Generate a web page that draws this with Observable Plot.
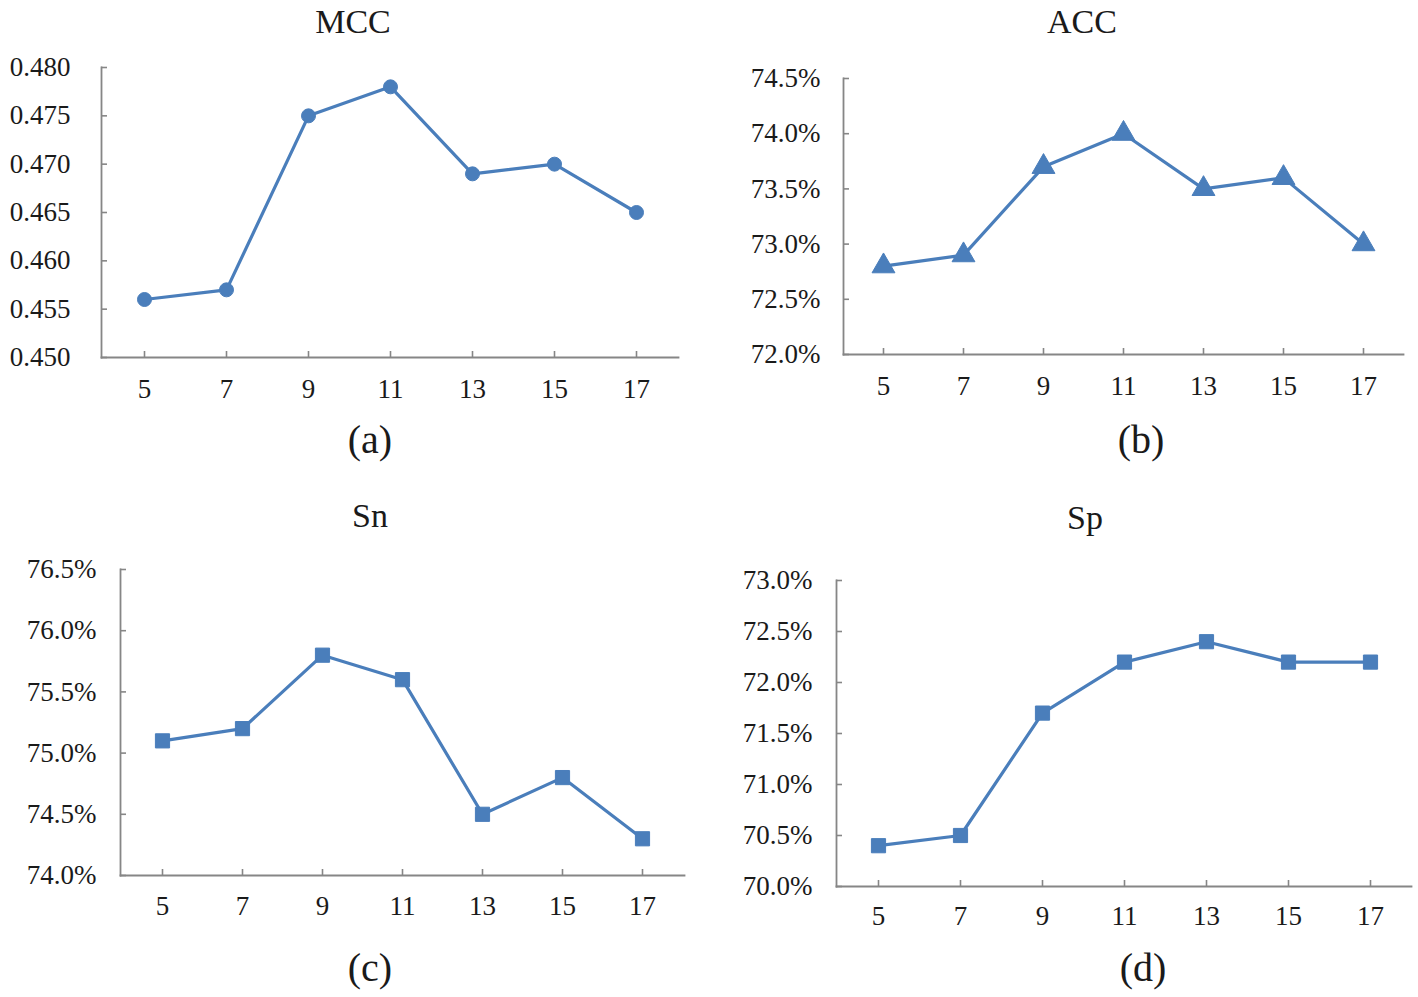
<!DOCTYPE html>
<html>
<head>
<meta charset="utf-8">
<script src="https://cdn.jsdelivr.net/npm/d3@7"></script>
<script src="https://cdn.jsdelivr.net/npm/@observablehq/plot@0.6"></script>
<style>
  html, body { margin: 0; padding: 0; background: #fff; }
  #wrap { position: relative; width: 1418px; height: 997px; overflow: hidden; background: #fff;
          font-family: "Liberation Serif", "Times New Roman", serif; color: #1a1a1a; }
  .panel { position: absolute; }
  .lbl { position: absolute; transform: translate(-50%, -50%); white-space: nowrap; line-height: 1.15; }
  .title { font-size: 34px; }
  .cap { font-size: 40px; }
</style>
</head>
<body>
<div id="wrap"></div>
<script>
// ---- data ----
const windowSizes = [5, 7, 9, 11, 13, 15, 17];
const mcc = [0.456, 0.457, 0.475, 0.478, 0.469, 0.470, 0.465];
const acc = [72.8, 72.9, 73.7, 74.0, 73.5, 73.6, 73.0];
const sn  = [75.1, 75.2, 75.8, 75.6, 74.5, 74.8, 74.3];
const sp  = [70.4, 70.5, 71.7, 72.2, 72.4, 72.2, 72.2];
const mccTicks = [0.450, 0.455, 0.460, 0.465, 0.470, 0.475, 0.480];
const accTicks = [72.0, 72.5, 73.0, 73.5, 74.0, 74.5];
const snTicks  = [74.0, 74.5, 75.0, 75.5, 76.0, 76.5];
const spTicks  = [70.0, 70.5, 71.0, 71.5, 72.0, 72.5, 73.0];
const titles   = ["MCC", "ACC", "Sn", "Sp"];
const captions = ["(a)", "(b)", "(c)", "(d)"];

const BLUE = "#4a7ebb";
const AXIS = "#868686";
const FONT = "'Liberation Serif', 'Times New Roman', serif";

const wrap = document.getElementById("wrap");

function panel({values, ticks, fmt, symbol, r, left, top, width, height,
                mL, mR, mT, mB, yPad, xPad}) {
  const data = windowSizes.map((k, i) => ({k: String(k), v: values[i]}));
  const chart = Plot.plot({
    width, height,
    marginLeft: mL, marginRight: mR, marginTop: mT, marginBottom: mB,
    style: {fontFamily: FONT, fontSize: "27px", color: "#1a1a1a", background: "transparent", overflow: "visible"},
    x: {type: "point", domain: windowSizes.map(String), padding: 0.5, label: null},
    y: {domain: [ticks[0], ticks[ticks.length - 1]], label: null},
    marks: [
      Plot.axisY({ticks, tickFormat: fmt, tickSize: -6, tickPadding: yPad, stroke: AXIS, strokeWidth: 1.6, fill: "#1a1a1a", fontSize: 27}),
      Plot.axisX({tickSize: -6, tickPadding: xPad, stroke: AXIS, strokeWidth: 1.6, fill: "#1a1a1a", fontSize: 27}),
      Plot.frame({anchor: "left", stroke: AXIS, strokeWidth: 1.8}),
      Plot.frame({anchor: "bottom", stroke: AXIS, strokeWidth: 1.8}),
      Plot.line(data, {x: "k", y: "v", stroke: BLUE, strokeWidth: 3.2}),
      Plot.dot(data, {x: "k", y: "v", symbol, r, fill: BLUE, stroke: BLUE, strokeWidth: 1})
    ]
  });
  chart.classList.add("panel");
  chart.style.left = left + "px";
  chart.style.top = top + "px";
  wrap.appendChild(chart);
}

const pct = d => d.toFixed(1) + "%";

panel({values: mcc, ticks: mccTicks, fmt: d => d.toFixed(3), symbol: "circle", r: 7,
       left: 0, top: 0, width: 709, height: 420, mL: 101, mR: 31, mT: 67, mB: 63, yPad: 37, xPad: 27});
panel({values: acc, ticks: accTicks, fmt: pct, symbol: "triangle", r: 8.5,
       left: 709, top: 0, width: 709, height: 420, mL: 134, mR: 15, mT: 78, mB: 66, yPad: 29, xPad: 27});
panel({values: sn, ticks: snTicks, fmt: pct, symbol: "square", r: 8,
       left: 0, top: 490, width: 709, height: 460, mL: 120, mR: 25, mT: 79, mB: 75, yPad: 30, xPad: 26});
panel({values: sp, ticks: spTicks, fmt: pct, symbol: "square", r: 8,
       left: 709, top: 490, width: 709, height: 460, mL: 127, mR: 7, mT: 90, mB: 64, yPad: 30, xPad: 25});

const titlePos = [[353, 22], [1082, 22], [370, 516], [1085, 518]];
const capPos = [[370, 440], [1141, 440], [370, 968], [1143, 968]];
titles.forEach((t, i) => {
  const d = document.createElement("div");
  d.className = "lbl title";
  d.textContent = t;
  d.style.left = titlePos[i][0] + "px";
  d.style.top = titlePos[i][1] + "px";
  wrap.appendChild(d);
});
captions.forEach((t, i) => {
  const d = document.createElement("div");
  d.className = "lbl cap";
  d.textContent = t;
  d.style.left = capPos[i][0] + "px";
  d.style.top = capPos[i][1] + "px";
  wrap.appendChild(d);
});
</script>
</body>
</html>
